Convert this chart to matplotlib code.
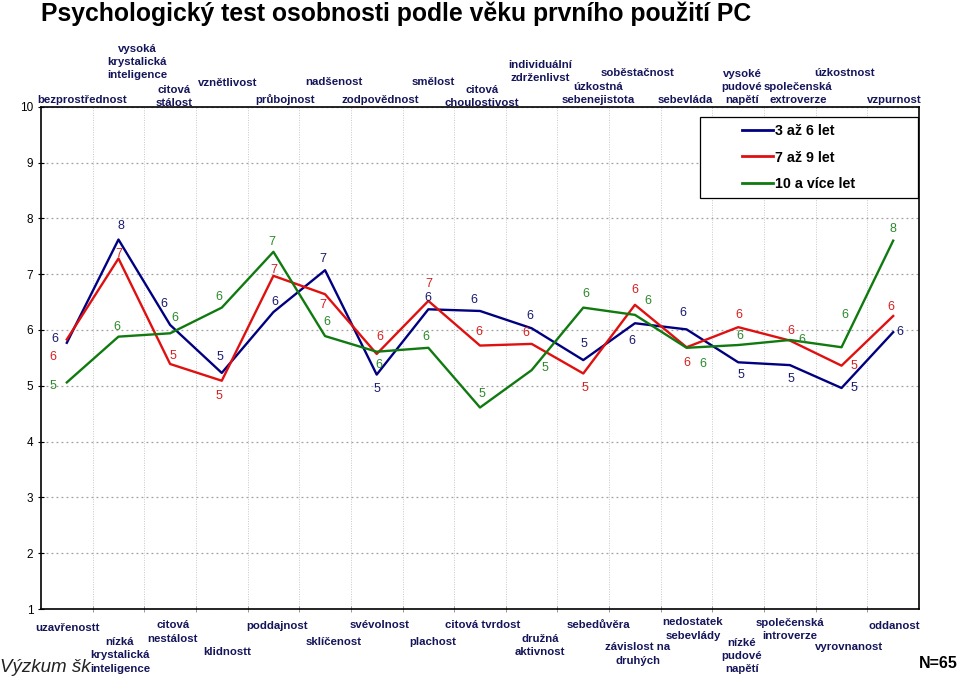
import numpy as np
import matplotlib.pyplot as plt
from matplotlib.patches import Rectangle

plt.rcParams['font.family'] = ['Liberation Sans', 'DejaVu Sans']

# Factor names, top pole and bottom pole
top_labels = ["bezprostřednost", "vysoká\nkrystalická\ninteligence", "citová\nstálost", "vznětlivost",
              "průbojnost", "nadšenost", "zodpovědnost", "smělost", "citová\nchoulostivost",
              "individuální\nzdrženlivst", "úzkostná\nsebenejistota", "soběstačnost", "sebevláda",
              "vysoké\npudové\nnapětí", "společenská\nextroverze", "úzkostnost", "vzpurnost"]
bottom_labels = ["uzavřenostt", "nízká\nkrystalická\ninteligence", "citová\nnestálost", "klidnostt",
                 "poddajnost", "sklíčenost", "svévolnost", "plachost", "citová tvrdost",
                 "družná\naktivnost", "sebedůvěra", "závislost na\ndruhých", "nedostatek\nsebevlády",
                 "nízké\npudové\nnapětí", "společenská\nintroverze", "vyrovnanost", "oddanost"]

# Mean scores per age group of first PC use
age_3_6 = [5.77, 7.62, 6.09, 5.23, 6.32, 7.07, 5.20, 6.37, 6.34, 6.03, 5.46, 6.12, 6.01, 5.42, 5.37, 4.96, 5.96]
age_7_9 = [5.83, 7.28, 5.39, 5.09, 6.97, 6.64, 5.57, 6.52, 5.72, 5.75, 5.22, 6.45, 5.69, 6.05, 5.81, 5.36, 6.25]
age_10 = [5.06, 5.88, 5.94, 6.40, 7.40, 5.89, 5.61, 5.68, 4.61, 5.28, 6.40, 6.27, 5.68, 5.73, 5.82, 5.69, 7.60]

series_names = ["3 až 6 let", "7 až 9 let", "10 a více let"]

W, H = 959, 680

# label layout (pixel positions)
top_pos = [(82, 100), (137, 62), (174, 96.5), (228, 83), (285, 100), (334, 82), (380, 100), (433, 82),
           (482, 96.5), (540, 71.5), (598, 93.5), (638, 73), (685, 100), (742, 87), (798, 93.5),
           (845, 73), (894, 100)]
bottom_pos = [(67, 628), (120, 655.5), (173, 632), (227, 652), (277, 626), (334, 642), (380, 625),
              (433, 642), (483, 625), (540, 645.5), (598, 625), (638, 654), (693, 629), (742, 656),
              (790, 629.5), (849, 647), (894, 626)]

# data label offsets in pixels (dx, dy downward)
off_3_6 = [(-12, -4), (2, -14), (-6, -21), (-2, -16), (1, -10), (-2, -11), (0, 14), (0, -11), (-6, -11),
           (-2, -12), (1, -16), (-3, 18), (-4, -16), (3, 13), (1, 14), (12, 0), (7, 0)]
off_7_9 = [(-14, 18), (0, -5), (3, -8), (-3, 15), (0, -6), (-2, 11), (3, -17), (0, -17), (-1, -14),
           (-6, -11), (2, 15), (0, -15), (0, 16), (1, -12), (1, -10), (12, 0), (-2, -9)]
off_10 = [(-14, 4), (-2, -10), (5, -15), (-3, -11), (-2, -10), (2, -14), (2, 13), (-2, -11), (2, -14),
          (13, -2), (3, -14), (13, -14), (16, 16), (2, -9), (12, 0), (3, -32), (0, -12)]

line_colors = ['#000080', '#e01010', '#107a10']
text_colors = ['#1a1a70', '#d42020', '#2a8a2a']
label_color = '#15155a'

fig = plt.figure(figsize=(W / 100, H / 100), dpi=100)
ax = fig.add_axes([41 / W, 1 - 609 / H, 878 / W, (609 - 106.7) / H])

x = np.arange(len(top_labels))
for vals, offs, lc, tc, name in zip([age_3_6, age_7_9, age_10], [off_3_6, off_7_9, off_10],
                                    line_colors, text_colors, series_names):
    ax.plot(x, vals, color=lc, lw=1.7, label=name, zorder=3)
    for xi, v, (dx, dy) in zip(x, vals, offs):
        ax.annotate(f"{round(v)}", (xi, v), xytext=(dx, -dy), textcoords='offset pixels',
                    ha='center', va='center', fontsize=9, color=tc, zorder=4)

ax.set_xlim(-0.5, len(top_labels) - 0.5)
ax.set_ylim(1, 10)
ax.set_yticks(range(1, 11))
ax.tick_params(axis='y', labelsize=8.5, length=4, direction='inout', width=0.8)
ax.set_xticks(np.arange(0.5, len(top_labels) - 1, 1))
ax.set_xticklabels([])
ax.tick_params(axis='x', length=4, direction='inout', width=0.6, color='#888888')
ax.grid(axis='y', color='#a0a0a0', linestyle=(0, (1.5, 2.5)), lw=0.9)
ax.grid(axis='x', color='#c8c8c8', linestyle=(0, (1, 1.5)), lw=0.7)
for s in ax.spines.values():
    s.set_linewidth(1.2)
    s.set_color('black')

# legend: Excel-like wide frame, entries inside
fig.patches.append(Rectangle((700 / W, 1 - 198 / H), 218 / W, 81 / H, transform=fig.transFigure,
                             facecolor='white', edgecolor='black', lw=0.9, zorder=5))
leg = fig.legend(*ax.get_legend_handles_labels(), loc='center', bbox_to_anchor=(799 / W, 1 - 157.5 / H),
                 frameon=False, handlelength=2.1, handletextpad=0.2, labelspacing=0.85,
                 prop={'weight': 'bold', 'size': 10.3})
leg.set_zorder(6)
for lh in leg.get_lines():
    lh.set_linewidth(2)

for txt, (px, py) in zip(top_labels, top_pos):
    fig.text(px / W, 1 - py / H, txt, ha='center', va='center', fontsize=8.2, fontweight='bold',
             color=label_color, linespacing=1.4)

fig.text(0, 1 - 668 / H, "Výzkum šk", ha='left', va='center', fontsize=13.5, style='italic', color='#222222')
for txt, (px, py) in zip(bottom_labels, bottom_pos):
    fig.text(px / W, 1 - py / H, txt, ha='center', va='center', fontsize=8.2, fontweight='bold',
             color=label_color, linespacing=1.4)

fig.text(41 / W, 1 - 14 / H, "Psychologický test osobnosti podle věku prvního použití PC",
         ha='left', va='center', fontsize=17.8, fontweight='bold', color='black')
fig.text(958 / W, 1 - 664 / H, "N=65", ha='right', va='center', fontsize=11.5, fontweight='bold', color='black')

fig.savefig('out.png', dpi=100)
